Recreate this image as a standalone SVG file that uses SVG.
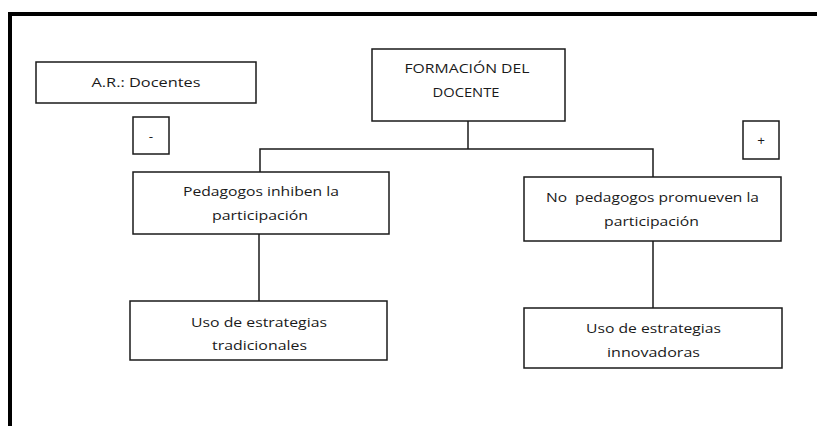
<svg xmlns="http://www.w3.org/2000/svg" width="817" height="426" viewBox="0 0 817 426">
<style>
.box{fill:#fff;stroke:#1a1a1a;stroke-width:1.5}
.lbl{font-family:"Open Sans","Liberation Sans",Arial,sans-serif;font-size:13.5px;fill:#1a1a1a;text-anchor:middle}
.con{fill:none;stroke:#1a1a1a;stroke-width:1.5}
</style>
<rect x="0" y="0" width="817" height="426" fill="#fff"/>
<path d="M10,426 V14 H817" fill="none" stroke="#000" stroke-width="4"/>
<g id="connectors">
<path class="con" d="M468,121 V149"/>
<path class="con" d="M260,172 V149 H653 V177"/>
<path class="con" d="M259,234 V301"/>
<path class="con" d="M653,241 V308"/>
</g>
<g id="ar-docentes">
<rect class="box" x="36" y="62" width="220" height="41"/>
<text class="lbl" x="146" y="87" textLength="109" lengthAdjust="spacingAndGlyphs">A.R.: Docentes</text>
</g>
<g id="formacion">
<rect class="box" x="372" y="49" width="193" height="72"/>
<text class="lbl" x="467" y="73" textLength="125" lengthAdjust="spacingAndGlyphs">FORMACIÓN DEL</text>
<text class="lbl" x="466" y="97" textLength="67" lengthAdjust="spacingAndGlyphs">DOCENTE</text>
</g>
<g id="minus">
<rect class="box" x="133" y="117" width="36" height="37"/>
<text class="lbl" x="151" y="141">-</text>
</g>
<g id="plus">
<rect class="box" x="743" y="121" width="36" height="38"/>
<text class="lbl" x="761" y="145">+</text>
</g>
<g id="pedagogos">
<rect class="box" x="133" y="172" width="256" height="62"/>
<text class="lbl" x="261" y="196" textLength="156" lengthAdjust="spacingAndGlyphs">Pedagogos inhiben la</text>
<text class="lbl" x="260" y="220" textLength="96" lengthAdjust="spacingAndGlyphs">participación</text>
</g>
<g id="no-pedagogos">
<rect class="box" x="524" y="177" width="257" height="64"/>
<text class="lbl" x="652.5" y="202" textLength="213" lengthAdjust="spacingAndGlyphs" xml:space="preserve">No  pedagogos promueven la</text>
<text class="lbl" x="651.5" y="226" textLength="95" lengthAdjust="spacingAndGlyphs">participación</text>
</g>
<g id="tradicionales">
<rect class="box" x="130" y="301" width="257" height="59"/>
<text class="lbl" x="259" y="327" textLength="136" lengthAdjust="spacingAndGlyphs">Uso de estrategias</text>
<text class="lbl" x="259.5" y="350" textLength="95" lengthAdjust="spacingAndGlyphs">tradicionales</text>
</g>
<g id="innovadoras">
<rect class="box" x="524" y="308" width="258" height="60"/>
<text class="lbl" x="653.5" y="333" textLength="135" lengthAdjust="spacingAndGlyphs">Uso de estrategias</text>
<text class="lbl" x="653.5" y="357" textLength="93" lengthAdjust="spacingAndGlyphs">innovadoras</text>
</g>
</svg>
